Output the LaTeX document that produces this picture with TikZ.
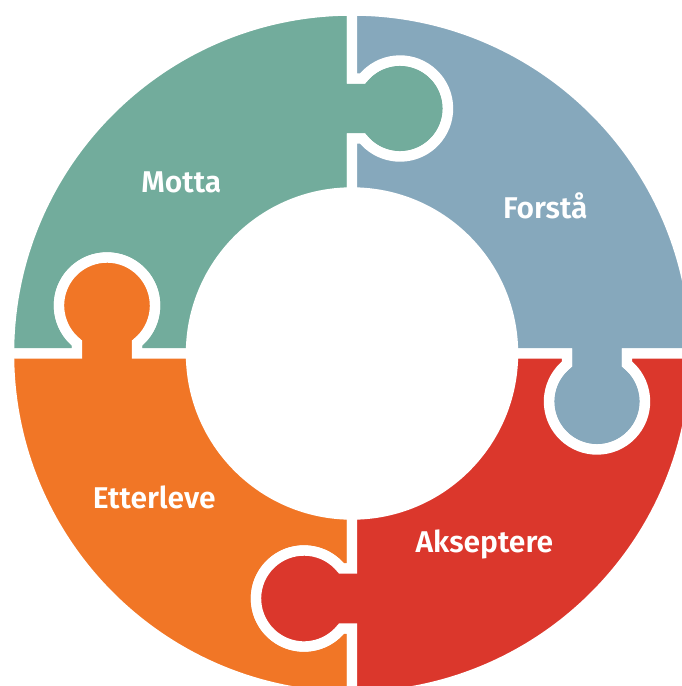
\documentclass[tikz,border=0pt]{standalone}
\usepackage{fontspec}
\setmainfont{Fira Sans}[BoldFont={Fira Sans SemiBold}]
\definecolor{mygreen}{RGB}{114,172,156}
\definecolor{myblue}{RGB}{134,168,188}
\definecolor{myred}{RGB}{219,55,44}
\definecolor{myorange}{RGB}{241,118,38}
\usepackage{tikz}
\tikzset{every picture/.style={line width=0.75pt}}

\begin{document}
\begin{tikzpicture}[x=0.75pt,y=0.75pt,yscale=-1,xscale=1,
  piece/.style={draw=white, line width=7.8pt, line join=miter},
  lbl/.style={anchor=base, inner sep=0pt, text=white, font=\fontsize{22.5}{27}\selectfont\bfseries}]
\useasboundingbox (0,0) rectangle (682,686);
\clip (0,0) rectangle (682,686);

%Shape: Puzzle Piece (top left)
\draw [piece, fill=mygreen] (352,192.5) -- (352,138.5) -- (362.53,138.5) arc [start angle=141.32, end angle=-141.32, radius=48] -- (352,78.5) -- (352,10.5) arc [start angle=-90, end angle=-180, radius=343] -- (77,353.5) -- (77,342.97) arc [start angle=128.68, end angle=411.32, radius=48] -- (137,353.5) -- (191,353.5) arc [start angle=180, end angle=270, radius=161] -- cycle ;
%Shape: Puzzle Piece (top right)
\draw [piece, fill=myblue] (513,353.5) -- (567,353.5) -- (567,364.03) arc [start angle=231.32, end angle=-51.32, radius=48] -- (627,353.5) -- (695,353.5) arc [start angle=0, end angle=-90, radius=343] -- (352,78.5) -- (362.53,78.5) arc [start angle=-141.32, end angle=141.32, radius=48] -- (352,138.5) -- (352,192.5) arc [start angle=-90, end angle=0, radius=161] -- cycle ;
%Shape: Puzzle Piece (bottom left)
\draw [piece, fill=myorange] (191,353.5) -- (137,353.5) -- (137,342.97) arc [start angle=51.32, end angle=-231.32, radius=48] -- (77,353.5) -- (9,353.5) arc [start angle=180, end angle=90, radius=343] -- (352,628.5) -- (341.47,628.5) arc [start angle=38.68, end angle=321.32, radius=48] -- (352,568.5) -- (352,514.5) arc [start angle=90, end angle=180, radius=161] -- cycle ;
%Shape: Puzzle Piece (bottom right)
\draw [piece, fill=myred] (352,514.5) -- (352,568.5) -- (341.47,568.5) arc [start angle=-38.68, end angle=-321.32, radius=48] -- (352,628.5) -- (352,696.5) arc [start angle=90, end angle=0, radius=343] -- (627,353.5) -- (627,364.03) arc [start angle=-51.32, end angle=231.32, radius=48] -- (567,353.5) -- (513,353.5) arc [start angle=0, end angle=90, radius=161] -- cycle ;

% Text Node
\node [lbl] (motta) at (181.4,192.8) {Motta};
% Text Node
\node [lbl] (forsta) at (545.3,218) {Forstå};
% Text Node
\node [lbl] (etterleve) at (154.2,508.7) {Etterleve};
% Text Node
\node [lbl] (akseptere) at (484.3,552.3) {Akseptere};

\end{tikzpicture}
\end{document}
